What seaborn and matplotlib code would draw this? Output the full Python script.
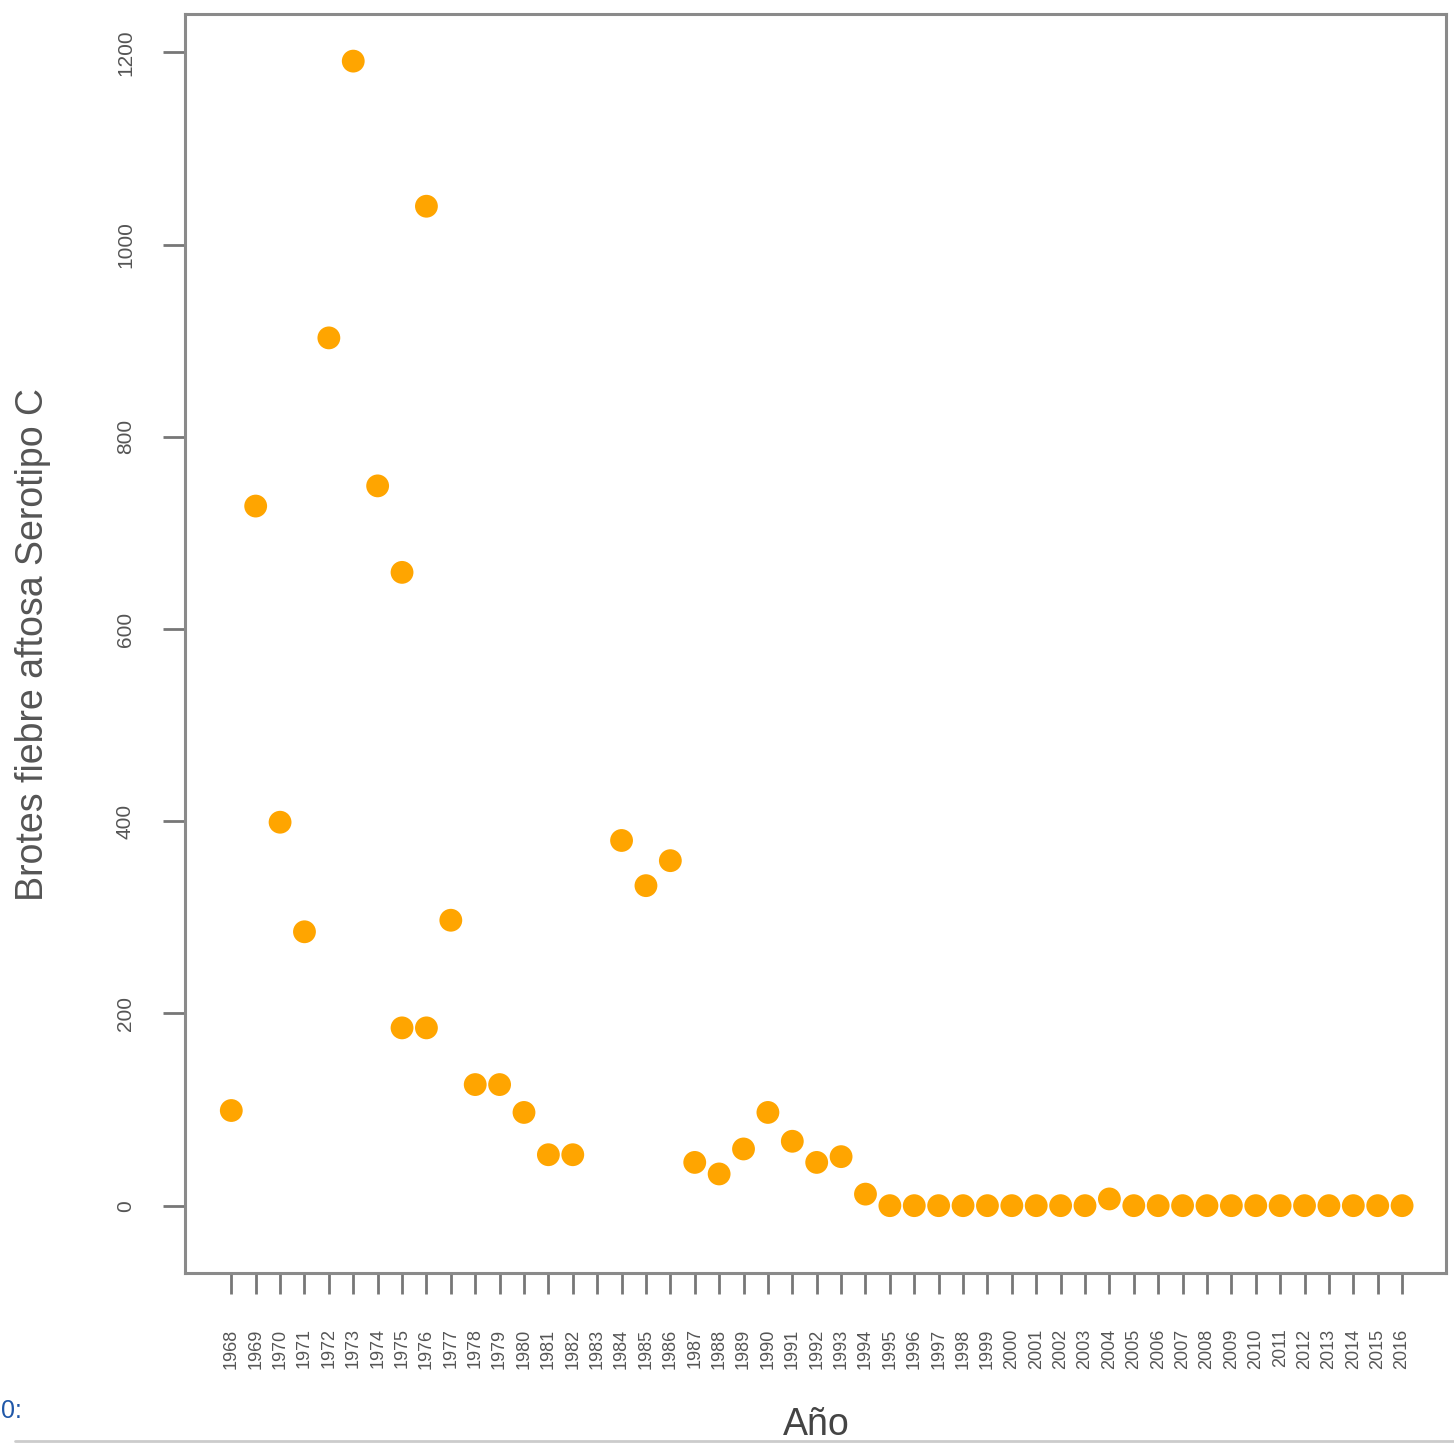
import pandas as pd
import seaborn as sns
import matplotlib.pyplot as plt
from matplotlib.lines import Line2D

sns.set_theme(style="white")
plt.rcParams["font.family"] = ["Liberation Sans", "DejaVu Sans"]

# Brotes de fiebre aftosa serotipo C por año (1983 sin dato; 1975 y 1976 con dos registros)
anios = [1968, 1969, 1970, 1971, 1972, 1973, 1974, 1975, 1975, 1976, 1976, 1977,
         1978, 1979, 1980, 1981, 1982, 1984, 1985, 1986, 1987, 1988, 1989, 1990,
         1991, 1992, 1993, 1994, 1995, 1996, 1997, 1998, 1999, 2000, 2001, 2002,
         2003, 2004, 2005, 2006, 2007, 2008, 2009, 2010, 2011, 2012, 2013, 2014,
         2015, 2016]
brotes = [99, 728, 399, 285, 903, 1191, 749, 659, 185, 1040, 185, 297,
          126, 126, 97, 53, 53, 380, 333, 359, 45, 33, 59, 97,
          67, 45, 51, 12, 0, 0, 0, 0, 0, 0, 0, 0,
          0, 7, 0, 0, 0, 0, 0, 0, 0, 0, 0, 0,
          0, 0]
tick_years = list(range(1968, 2017))
y_ticks = [0, 200, 400, 600, 800, 1000, 1200]

df = pd.DataFrame({"Año": anios, "Brotes": brotes})

fig = plt.figure(figsize=(14.54, 14.47), dpi=100)
ax = fig.add_axes([0.1272, 0.1203, 0.8673, 0.8700])

sns.scatterplot(data=df, x="Año", y="Brotes", ax=ax, color="#FFA500",
                s=270, edgecolor="none", linewidth=0)

ax.set_xlim(1966.1, 2017.8)
ax.set_ylim(-70, 1240)
ax.set_xticks(tick_years)
ax.set_xticklabels([str(a) for a in tick_years], rotation=90, fontsize=13, color="#555555")
ax.set_yticks(y_ticks)
ax.set_yticklabels([str(v) for v in y_ticks], rotation=90, va="center",
                   fontsize=15, color="#555555")

ax.tick_params(axis="x", direction="out", length=15, width=2, color="#777777", pad=25, bottom=True)
ax.tick_params(axis="y", direction="out", length=16, width=2, color="#777777", pad=20, left=True)

for sp in ax.spines.values():
    sp.set_visible(True)
    sp.set_color("#8a8a8a")
    sp.set_linewidth(2.2)

ax.set_xlabel("Año", fontsize=27, color="#444444", va="center")
ax.set_ylabel("Brotes fiebre aftosa Serotipo C", fontsize=27, color="#555555", va="center")
ax.xaxis.set_label_coords(0.501, -0.121)
ax.yaxis.set_label_coords(-0.1205, 0.499)

# restos del recorte de la imagen original
fig.text(0.001, 0.025, "0:", fontsize=18, color="#1f57a8", ha="left", va="center")
fig.add_artist(Line2D([0.01, 1.0], [0.004, 0.004], transform=fig.transFigure,
                      color="#cccccc", linewidth=2))

fig.savefig("out.png", dpi=100)
